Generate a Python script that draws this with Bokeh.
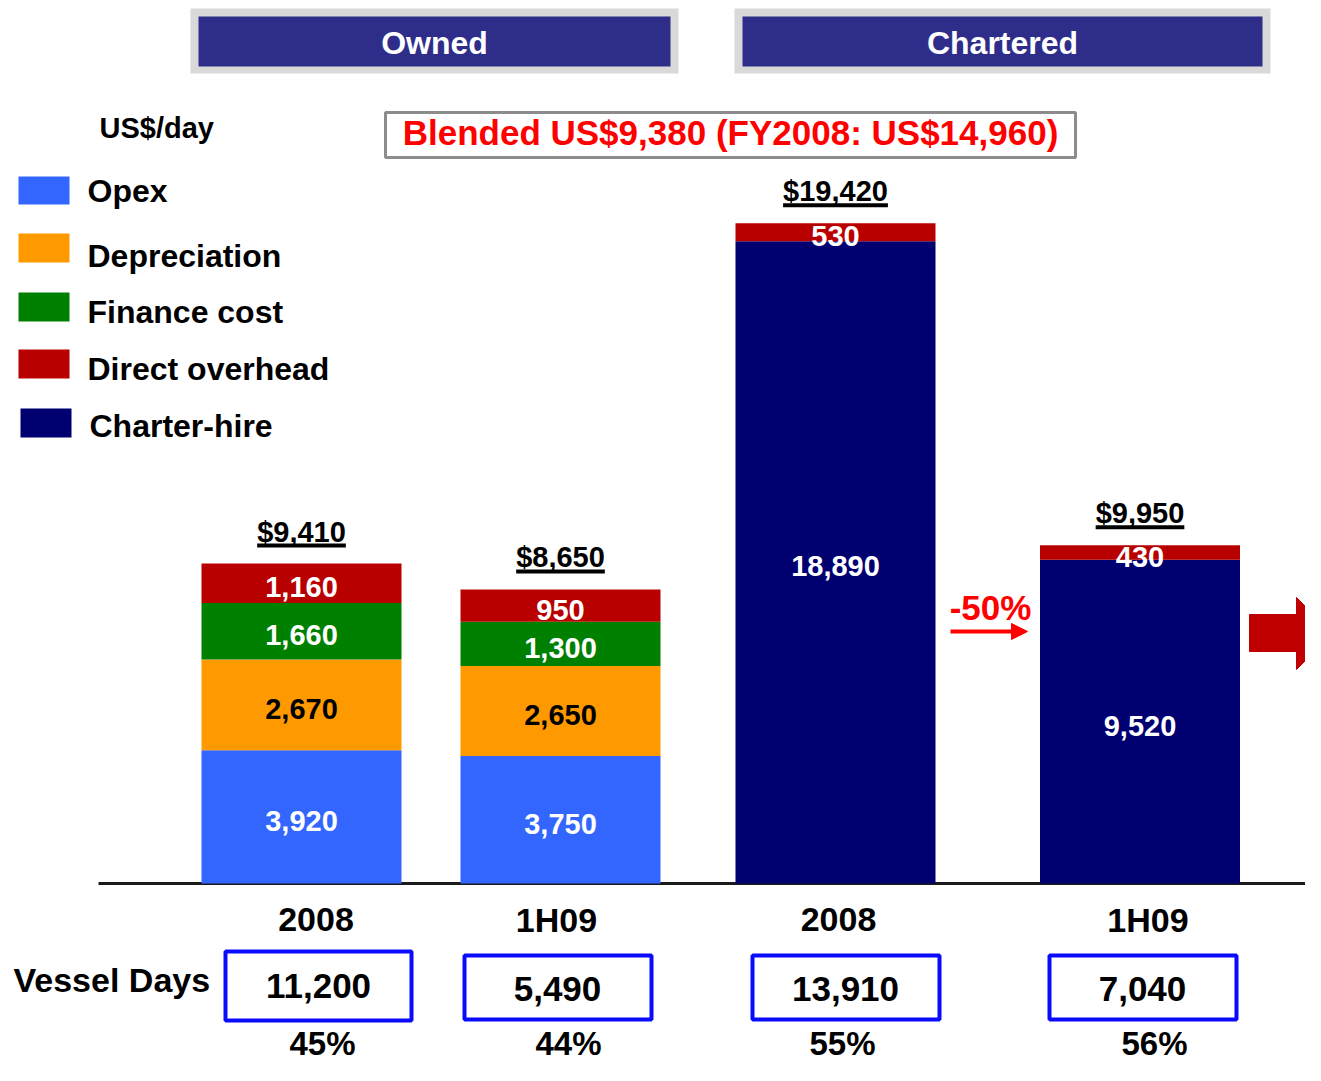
import numpy as np
from bokeh.plotting import figure
from bokeh.models import Range1d, Arrow, NormalHead
from bokeh.core.properties import value
from bokeh.embed import file_html
from bokeh.resources import INLINE

# ---------------- data ----------------
groups = ["Owned", "Chartered"]
categories = ["2008", "1H09", "2008", "1H09"]
series_names = ["Opex", "Depreciation", "Finance cost", "Direct overhead", "Charter-hire"]
opex = [3920, 3750, 0, 0]
depreciation = [2670, 2650, 0, 0]
finance_cost = [1660, 1300, 0, 0]
direct_overhead = [1160, 950, 530, 430]
charter_hire = [0, 0, 18890, 9520]
totals = [9410, 8650, 19420, 9950]
vessel_days = [11200, 5490, 13910, 7040]
share_pct = [45, 44, 55, 56]
blended = 9380
blended_fy2008 = 14960
charter_change_pct = -50
unit_label = "US$/day"

# ---------------- layout ----------------
W, H = 1305, 1065
BASE = 883          # canvas px (from top) of the zero line
K = 0.034           # px per US$/day
FONT = value("Liberation Sans")

def Y(cy):
    return (BASE - np.asarray(cy, dtype=float)) / K

BAR_X = [301, 560, 835, 1139.5]
BAR_W = 200
CAT_X = [315.5, 556, 838, 1147.5]
BOX_LR = [(225, 411), (464, 651), (752, 939), (1049, 1236)]
BOX_TB = [(951, 1020), (955, 1019), (955, 1019), (955, 1019)]
BOX_TXT_X = [318, 557, 845, 1142]
BOX_TXT_Y = [985, 988, 988, 988]
PCT_X = [322, 568, 842, 1154]

COLORS = {"Opex": "#3366ff", "Depreciation": "#ff9900", "Finance cost": "#008000",
          "Direct overhead": "#b90000", "Charter-hire": "#000070"}
LABEL_COLORS = {"Opex": "white", "Depreciation": "black", "Finance cost": "white",
                "Direct overhead": "white", "Charter-hire": "white"}

p = figure(width=W, height=H, output_backend="svg", toolbar_location=None,
           x_range=Range1d(0, W), y_range=Range1d(float(Y(H)), float(Y(0))),
           x_axis_location=None, y_axis_location=None, min_border=0)
p.outline_line_color = None
p.grid.visible = False
p.background_fill_color = "white"
p.border_fill_color = "white"


def txt(x, y, s, size, color="black", align="center"):
    p.text(x=list(np.atleast_1d(x)), y=list(np.atleast_1d(y)), text=list(np.atleast_1d(s)),
           text_font=FONT, text_font_style="bold", text_font_size=value(f"{size}px"),
           text_color=color, text_align=align, text_baseline="middle")


AW = {",": 0.278, ".": 0.278}
def tw(s, size):
    return sum(AW.get(c, 0.556) for c in s) * size

# header boxes
for name, (l, r) in zip(groups, [(190, 678), (734, 1270)]):
    p.quad(left=[l], right=[r], top=[float(Y(8))], bottom=[float(Y(73))],
           fill_color="#d9d9d9", line_color=None)
    p.quad(left=[l + 8], right=[r - 8], top=[float(Y(16))], bottom=[float(Y(66))],
           fill_color="#2e2e8a", line_color=None)
    txt((l + r) / 2, Y(42), name, 32, "white")

# unit label
txt(99, Y(127), unit_label, 29, "black", align="left")

# blended box
p.quad(left=[385], right=[1075], top=[float(Y(112))], bottom=[float(Y(157))],
       fill_color="white", line_color="#8c8c8c", line_width=3)
txt(730, Y(132), f"Blended US${blended:,} (FY2008: US${blended_fy2008:,})", 35, "#ff0000")

# legend
LEG_SW = [(18, 69, 176, 204), (18, 69, 233, 262), (18, 69, 292, 321),
          (18, 69, 349, 378), (20, 71, 408, 437)]
LEG_TY = [190, 255, 311.5, 368.5, 425.5]
for name, (l, r, t, b), ty in zip(series_names, LEG_SW, LEG_TY):
    p.quad(left=[l], right=[r], top=[float(Y(t))], bottom=[float(Y(b))],
           fill_color=COLORS[name], line_color=None)
    txt(87 if name != "Charter-hire" else 89, Y(ty), name, 32, "black", align="left")

# zero line
p.segment(x0=[98], x1=[W], y0=[0], y1=[0], line_color="#1a1a1a", line_width=3)

# stacked bars
stack = [("Opex", opex), ("Depreciation", depreciation), ("Finance cost", finance_cost),
         ("Charter-hire", charter_hire), ("Direct overhead", direct_overhead)]
bottom = np.zeros(len(categories))
for name, vals in stack:
    v = np.array(vals, dtype=float)
    m = v > 0
    xs = [BAR_X[i] for i in range(len(v)) if m[i]]
    p.vbar(x=xs, width=BAR_W, bottom=list(bottom[m]), top=list((bottom + v)[m]),
           fill_color=COLORS[name], line_color=None)
    bottom = bottom + v

bottom = np.zeros(len(categories))
for name, vals in stack:
    v = np.array(vals, dtype=float)
    m = v > 0
    xs = [BAR_X[i] for i in range(len(v)) if m[i]]
    centers = (bottom + v / 2)[m] - 4 / K
    txt(xs, list(centers), [f"{int(a):,}" for a in v[m]], 29, LABEL_COLORS[name])
    bottom = bottom + v

# totals with underline
tot = np.array(totals, dtype=float)
tot_labels = [f"${int(t):,}" for t in totals]
txt(BAR_X, list(tot + 32 / K), tot_labels, 29, "black")
widths = [tw(s, 29) for s in tot_labels]
p.segment(x0=[x - w / 2 for x, w in zip(BAR_X, widths)],
          x1=[x + w / 2 for x, w in zip(BAR_X, widths)],
          y0=list(tot + 18 / K), y1=list(tot + 18 / K),
          line_color="black", line_width=4)

# category labels
txt(CAT_X, list(Y([919] * 4)), categories, 34, "black")

# vessel days
txt(13, Y(979), "Vessel Days", 34, "black", align="left")
p.quad(left=[b[0] for b in BOX_LR], right=[b[1] for b in BOX_LR],
       top=list(Y([b[0] for b in BOX_TB])), bottom=list(Y([b[1] for b in BOX_TB])),
       fill_color=None, line_color="#0a0aff", line_width=4)
txt(BOX_TXT_X, list(Y(BOX_TXT_Y)), [f"{d:,}" for d in vessel_days], 35, "black")

# shares
txt(PCT_X, list(Y([1043] * 4)), [f"{s}%" for s in share_pct], 33, "black")

# -50% annotation
txt(990, Y(607), f"{charter_change_pct}%", 35, "#ff0000")
p.add_layout(Arrow(x_start=950, y_start=float(Y(631)), x_end=1027, y_end=float(Y(631)),
                   line_color="#ff0000", line_width=4,
                   end=NormalHead(size=16, fill_color="#ff0000", line_color="#ff0000")))

# big block arrow on the right
p.patch(x=[1249, 1296, 1296, 1332, 1296, 1296, 1249],
        y=list(Y([614, 614, 597, 633, 669, 651, 651])),
        fill_color="#c00000", line_color="#c00000")

open("out.html", "w").write(file_html(p, INLINE))
